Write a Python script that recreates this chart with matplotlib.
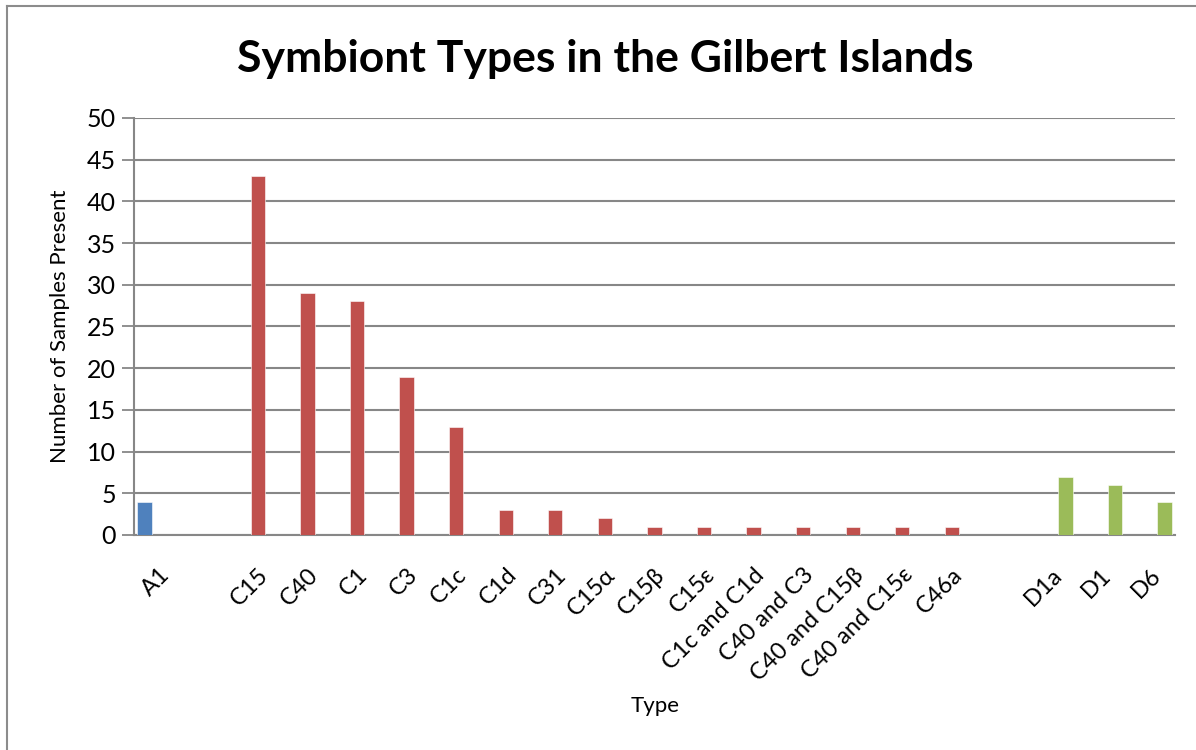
import matplotlib
matplotlib.use("Agg")
import matplotlib.pyplot as plt
from matplotlib.lines import Line2D
import numpy as np

plt.rcParams["font.family"] = ["Lato", "DejaVu Sans"]

# ── Data ────────────────────────────────────────────────────────────────
categories = ["A1", "", "C15", "C40", "C1", "C3", "C1c", "C1d", "C31",
              "C15α", "C15β", "C15ε", "C1c and C1d", "C40 and C3",
              "C40 and C15β", "C40 and C15ε", "C46a", "", "D1a", "D1", "D6"]
a_labels = ["A1"]
a_values = [4]
c_labels = ["C15", "C40", "C1", "C3", "C1c", "C1d", "C31", "C15α", "C15β",
            "C15ε", "C1c and C1d", "C40 and C3", "C40 and C15β",
            "C40 and C15ε", "C46a"]
c_values = [43, 29, 28, 19, 13, 3, 3, 2, 1, 1, 1, 1, 1, 1, 1]
d_labels = ["D1a", "D1", "D6"]
d_values = [7, 6, 4]

# ── Style ───────────────────────────────────────────────────────────────
_BLUE = "#4F81BD"
_RED = "#C0504D"
_GREEN = "#9BBB59"
_GRID = "#878787"
_W = 0.29

fig = plt.figure(figsize=(11.96, 7.5), dpi=100)
ax = fig.add_axes([0.1120, 0.2867, 0.9824 - 0.1120, 0.8427 - 0.2867])

pos = {name: i for i, name in enumerate(categories) if name}
series = [(a_labels, a_values, _BLUE, -_W),
          (c_labels, c_values, _RED, 0.0),
          (d_labels, d_values, _GREEN, _W)]
for labels, values, color, off in series:
    x = np.array([pos[n] for n in labels]) + off
    ax.bar(x, values, width=_W, color=color, edgecolor="white",
           linewidth=0.4, zorder=3)

ax.set_xlim(-0.5, len(categories) - 0.5)
ax.set_ylim(0, 50)
ax.set_yticks(range(0, 51, 5))
ax.set_xticks(range(len(categories)))
ax.set_xticklabels(categories, rotation=45, ha="right", rotation_mode="anchor",
                   fontsize=17)
ax.tick_params(axis="x", length=0, pad=21)
ax.tick_params(axis="y", length=9, width=1.3, color=_GRID, labelsize=18, pad=4)
ax.yaxis.grid(True, color=_GRID, linewidth=1.5, zorder=0)
ax.set_axisbelow(True)
for side in ("top", "right"):
    ax.spines[side].set_visible(False)
for side in ("left", "bottom"):
    ax.spines[side].set_color(_GRID)
    ax.spines[side].set_linewidth(1.5)

ax.set_ylabel("Number of Samples Present", fontsize=16, labelpad=12)
fig.text(655 / 1196, 1 - 706 / 750, "Type", fontsize=16,
         ha="center", va="center")
fig.text(605 / 1196, 1 - 59 / 750, "Symbiont Types in the Gilbert Islands",
         fontsize=32, fontweight="bold", ha="center", va="center")

# chart border (only top and left visible)
fig.add_artist(Line2D([7 / 1196, 7 / 1196], [0, 1 - 6 / 750],
                      transform=fig.transFigure, color="#8c8c8c", lw=1.5))
fig.add_artist(Line2D([7 / 1196, 1], [1 - 6 / 750, 1 - 6 / 750],
                      transform=fig.transFigure, color="#8c8c8c", lw=1.5))

fig.savefig("out.png", dpi=100)
plt.close(fig)
